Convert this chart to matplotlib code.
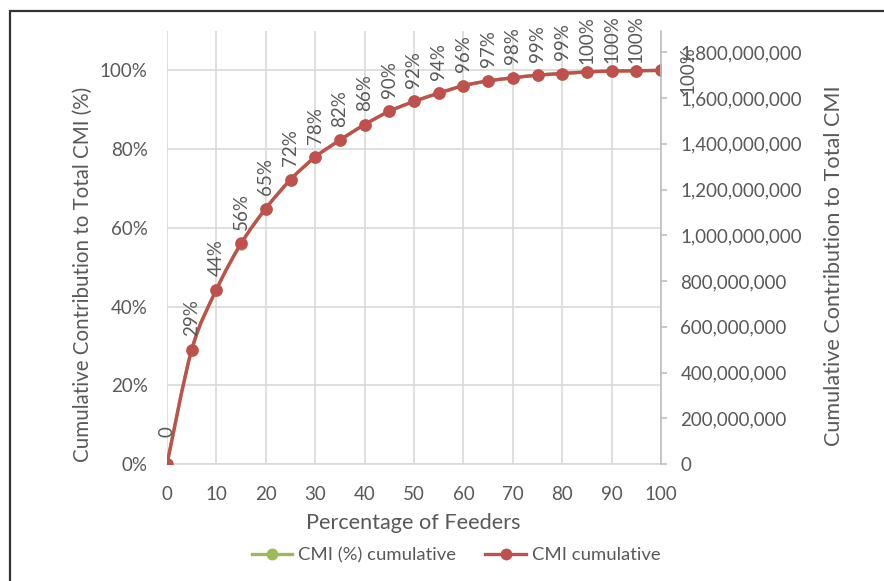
import matplotlib
matplotlib.use("Agg")
import matplotlib.pyplot as plt
from matplotlib.path import Path
from matplotlib.patches import PathPatch, Rectangle
from matplotlib.lines import Line2D
from matplotlib.ticker import FuncFormatter, MultipleLocator

plt.rcParams['font.family'] = ['Lato', 'DejaVu Sans']

# data
feeders_pct = [0, 5, 10, 15, 20, 25, 30, 35, 40, 45, 50,
               55, 60, 65, 70, 75, 80, 85, 90, 95, 100]
cmi_pct_cum = [0.0, 0.290, 0.443, 0.560, 0.649, 0.722, 0.780, 0.823, 0.862, 0.896, 0.921,
               0.942, 0.961, 0.973, 0.981, 0.988, 0.992, 0.996, 0.998, 0.999, 1.0]
cmi_cum = [0, 4.99e8, 7.62e8, 9.64e8, 1.117e9, 1.243e9, 1.342e9, 1.416e9, 1.484e9,
           1.542e9, 1.585e9, 1.621e9, 1.654e9, 1.675e9, 1.688e9, 1.700e9, 1.707e9,
           1.714e9, 1.718e9, 1.719e9, 1.721e9]
pct_labels = ['0', '29%', '44%', '56%', '65%', '72%', '78%', '82%', '86%', '90%', '92%',
              '94%', '96%', '97%', '98%', '99%', '99%', '100%', '100%', '100%', '100%']

GREEN = '#9BBB59'
RED = '#C0504D'
TXT = '#595959'
GRID = '#D9D9D9'
FS = 13.5


def smooth_path(xs, ys):
    # bezier path through the points, like excel's smoothed line
    pts = list(zip(xs, ys))
    verts = [pts[0]]
    codes = [Path.MOVETO]
    n = len(pts)
    for i in range(n - 1):
        p0 = pts[i - 1] if i > 0 else pts[i]
        p1 = pts[i]
        p2 = pts[i + 1]
        p3 = pts[i + 2] if i + 2 < n else pts[i + 1]
        c1 = (p1[0] + (p2[0] - p0[0]) / 6, p1[1] + (p2[1] - p0[1]) / 6)
        c2 = (p2[0] - (p3[0] - p1[0]) / 6, p2[1] - (p3[1] - p1[1]) / 6)
        verts += [c1, c2, p2]
        codes += [Path.CURVE4] * 3
    return Path(verts, codes)


fig = plt.figure(figsize=(8.84, 5.81), dpi=100)
ax = fig.add_axes([167/884, 1 - 464/581, 494/884, 433/581])
ax2 = ax.twinx()

# left axis: percentage series
ax.add_patch(PathPatch(smooth_path(feeders_pct, cmi_pct_cum), fill=False,
                       edgecolor=GREEN, lw=2.4))
ax.plot(feeders_pct, cmi_pct_cum, 'o', color=GREEN, ms=8)
ax.set_xlim(0, 100)
ax.set_ylim(0, 1.1)
ax.set_yticks([0, 0.2, 0.4, 0.6, 0.8, 1.0])
ax.yaxis.set_major_formatter(FuncFormatter(lambda v, p: '{:.0f}%'.format(v * 100)))
ax.xaxis.set_major_locator(MultipleLocator(10))
ax.grid(True, color=GRID, lw=1.2)
ax.set_axisbelow(True)

# right axis: absolute CMI
ax2.add_patch(PathPatch(smooth_path(feeders_pct, cmi_cum), fill=False,
                        edgecolor=RED, lw=2.4))
ax2.plot(feeders_pct, cmi_cum, 'o', color=RED, ms=8)
ax2.set_ylim(0, 1.893e9)
ax2.set_yticks([i * 2e8 for i in range(10)])
ax2.yaxis.set_major_formatter(FuncFormatter(lambda v, p: '{:,.0f}'.format(v)))

for a in (ax, ax2):
    for s in a.spines.values():
        s.set_visible(False)
ax.spines['bottom'].set_visible(True)
ax.spines['bottom'].set_color(GRID)
ax.spines['bottom'].set_linewidth(1.2)
ax2.spines['right'].set_visible(True)
ax2.spines['right'].set_color('#BFBFBF')
ax2.spines['right'].set_linewidth(1.2)

ax.tick_params(axis='both', length=0, labelsize=FS, labelcolor=TXT)
ax.tick_params(axis='x', pad=16)
ax.tick_params(axis='y', pad=14)
ax2.tick_params(axis='y', length=4, width=1.2, color='#BFBFBF', labelsize=FS,
                labelcolor=TXT, pad=10)

# data labels
for i, (x, y, lab) in enumerate(zip(feeders_pct, cmi_cum, pct_labels)):
    if i == len(pct_labels) - 1:
        ax2.annotate(lab, (x, y), xytext=(13, 0), textcoords='offset points',
                     rotation=90, ha='left', va='center', fontsize=FS, color=TXT)
    else:
        ax2.annotate(lab, (x, y), xytext=(0, 23), textcoords='offset points',
                     rotation=90, ha='center', va='center', fontsize=FS, color=TXT)

fig.text(83/884, 1 - 274/581, 'Cumulative Contribution to Total CMI (%)', rotation=90,
         ha='center', va='center', fontsize=14.8, color=TXT)
fig.text(834/884, 1 - 266/581, 'Cumulative Contribution to Total CMI', rotation=90,
         ha='center', va='center', fontsize=15.6, color=TXT)
fig.text(413/884, 1 - 523/581, 'Percentage of Feeders', ha='center', va='center',
         fontsize=15.6, color=TXT)

handles = [Line2D([], [], color=GREEN, lw=2.4, marker='o', ms=7.5),
           Line2D([], [], color=RED, lw=2.4, marker='o', ms=7.5)]
fig.legend(handles, ['CMI (%) cumulative', 'CMI cumulative'], loc='center',
           bbox_to_anchor=(456/884, 1 - 555/581), ncol=2, frameon=False,
           fontsize=13.3, labelcolor=TXT, handlelength=2.2, handletextpad=0.3,
           columnspacing=1.6)

fig.patches.append(Rectangle((10/884, -0.1), 1.2, 0.1 + (581 - 11)/581, fill=False,
                             edgecolor='#333333', lw=1.6, transform=fig.transFigure,
                             figure=fig, clip_on=False))

fig.savefig('out.png', dpi=100)
